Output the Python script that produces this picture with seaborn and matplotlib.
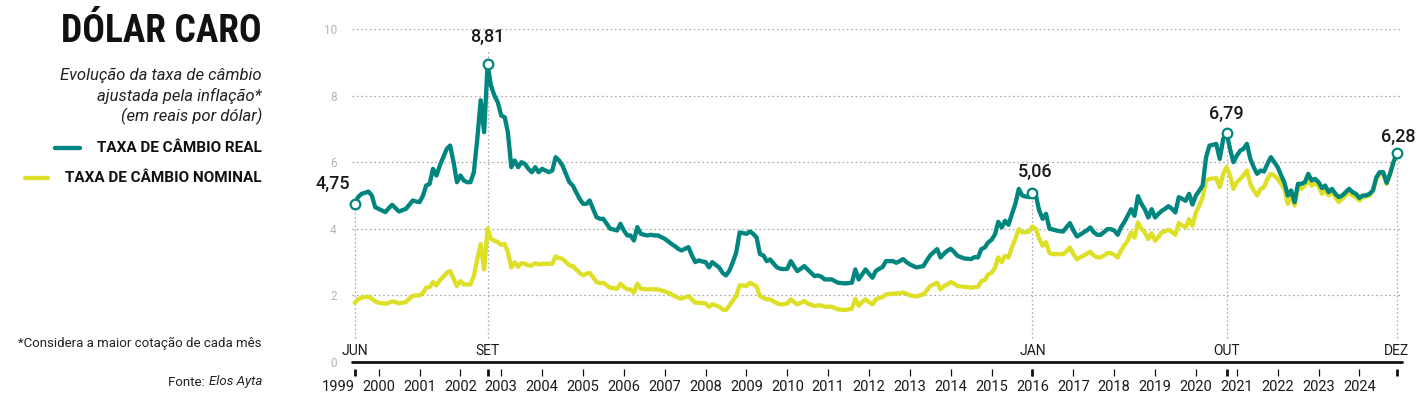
import numpy as np
import pandas as pd
import matplotlib
matplotlib.use("Agg")
import matplotlib.pyplot as plt
import seaborn as sns
from matplotlib.lines import Line2D
from matplotlib import font_manager

# ---------------- data (monthly, Jun 1999 .. Dec 2024) ----------------
start_month = "1999-06-01"
end_month = "2024-12-01"

real_rate = [
    4.75, 4.95, 5.05, 5.08, 5.12, 5.0, 4.65,                               # 1999 (jun-dez)
    4.6, 4.55, 4.5, 4.62, 4.72, 4.62, 4.52, 4.56, 4.6, 4.72, 4.85, 4.82,   # 2000
    4.8, 5.0, 5.3, 5.35, 5.8, 5.6, 5.9, 6.15, 6.4, 6.5, 6.0, 5.4,          # 2001
    5.6, 5.45, 5.4, 5.4, 5.7, 6.7, 7.86, 6.9, 8.95, 8.3, 8.0, 7.8,         # 2002
    7.4, 7.35, 6.9, 5.85, 6.05, 5.85, 6.0, 5.95, 5.8, 5.7, 5.85, 5.7,      # 2003
    5.8, 5.75, 5.7, 5.75, 6.15, 6.05, 5.9, 5.65, 5.4, 5.3, 5.1, 4.9,       # 2004
    4.75, 4.75, 4.85, 4.6, 4.35, 4.3, 4.3, 4.15, 4.0, 3.98, 3.95, 4.15,    # 2005
    3.95, 3.8, 3.8, 3.65, 4.05, 3.85, 3.82, 3.8, 3.82, 3.8, 3.8, 3.75,     # 2006
    3.7, 3.62, 3.55, 3.48, 3.4, 3.35, 3.4, 3.45, 3.2, 3.0, 3.05, 3.02,     # 2007
    3.0, 2.84, 3.0, 2.92, 2.84, 2.68, 2.6, 2.74, 3.0, 3.29, 3.89, 3.87,    # 2008
    3.85, 3.92, 3.85, 3.74, 3.24, 3.2, 3.03, 3.08, 2.95, 2.84, 2.8, 2.79,  # 2009
    2.8, 3.03, 2.88, 2.73, 2.8, 2.88, 2.78, 2.68, 2.58, 2.6, 2.56, 2.48,   # 2010
    2.48, 2.48, 2.43, 2.38, 2.37, 2.36, 2.37, 2.38, 2.78, 2.48, 2.63, 2.78,  # 2011
    2.65, 2.53, 2.73, 2.8, 2.85, 3.03, 3.03, 3.03, 2.98, 3.03, 3.09, 3.0,  # 2012
    2.93, 2.88, 2.84, 2.86, 2.88, 3.05, 3.2, 3.3, 3.39, 3.14, 3.25, 3.34,  # 2013
    3.4, 3.3, 3.19, 3.15, 3.11, 3.1, 3.09, 3.15, 3.14, 3.39, 3.44, 3.59,   # 2014
    3.67, 3.84, 4.21, 4.04, 4.24, 4.12, 4.44, 4.75, 5.2, 5.0, 4.97, 4.95,  # 2015
    5.08, 5.0, 4.55, 4.3, 4.45, 4.0, 3.98, 3.95, 3.93, 3.92, 4.05, 4.17,   # 2016
    3.95, 3.77, 3.82, 3.89, 3.95, 4.04, 3.9, 3.82, 3.82, 3.9, 3.99, 3.99,  # 2017
    3.95, 3.82, 4.04, 4.2, 4.39, 4.59, 4.39, 4.98, 4.75, 4.59, 4.34, 4.59,  # 2018
    4.34, 4.45, 4.54, 4.6, 4.68, 4.6, 4.49, 4.95, 4.9, 4.84, 5.05, 4.73,   # 2019
    5.0, 5.15, 5.3, 6.15, 6.5, 6.52, 6.55, 6.1, 6.7, 6.88, 6.4, 6.0,       # 2020
    6.2, 6.35, 6.4, 6.55, 6.1, 5.85, 5.65, 5.75, 5.72, 5.95, 6.15, 6.0,    # 2021
    5.85, 5.6, 5.4, 5.0, 5.15, 4.8, 5.35, 5.35, 5.4, 5.65, 5.45, 5.5,      # 2022
    5.4, 5.22, 5.3, 5.1, 5.2, 5.05, 4.95, 5.0, 5.1, 5.2, 5.1, 5.05,        # 2023
    4.93, 5.0, 5.0, 5.05, 5.15, 5.55, 5.7, 5.7, 5.38, 5.65, 6.0, 6.28,     # 2024
]

nominal_rate = [
    1.78, 1.88, 1.93, 1.95, 1.96, 1.9, 1.82,                               # 1999
    1.78, 1.76, 1.75, 1.78, 1.82, 1.8, 1.76, 1.78, 1.8, 1.9, 1.98, 2.0,    # 2000
    2.0, 2.08, 2.23, 2.25, 2.4, 2.3, 2.45, 2.56, 2.68, 2.73, 2.5, 2.28,    # 2001
    2.43, 2.33, 2.33, 2.33, 2.58, 3.09, 3.54, 2.78, 4.01, 3.7, 3.64, 3.6,  # 2002
    3.52, 3.54, 3.3, 2.84, 2.99, 2.86, 2.97, 2.95, 2.9, 2.9, 2.97, 2.93,   # 2003
    2.95, 2.95, 2.95, 2.95, 3.17, 3.12, 3.1, 3.0, 2.9, 2.88, 2.78, 2.68,   # 2004
    2.6, 2.65, 2.68, 2.55, 2.4, 2.37, 2.38, 2.3, 2.23, 2.22, 2.2, 2.35,    # 2005
    2.25, 2.18, 2.18, 2.08, 2.35, 2.2, 2.19, 2.18, 2.19, 2.18, 2.18, 2.15,  # 2006
    2.12, 2.08, 2.03, 1.98, 1.93, 1.9, 1.94, 1.98, 1.88, 1.78, 1.78, 1.77,  # 2007
    1.76, 1.66, 1.73, 1.7, 1.66, 1.58, 1.56, 1.69, 1.85, 1.98, 2.3, 2.3,   # 2008
    2.28, 2.38, 2.33, 2.27, 1.98, 1.93, 1.88, 1.88, 1.82, 1.76, 1.73, 1.74,  # 2009
    1.76, 1.88, 1.8, 1.73, 1.78, 1.83, 1.76, 1.72, 1.68, 1.7, 1.7, 1.66,   # 2010
    1.66, 1.66, 1.62, 1.58, 1.57, 1.56, 1.58, 1.6, 1.9, 1.69, 1.8, 1.88,   # 2011
    1.8, 1.73, 1.88, 1.92, 1.95, 2.03, 2.04, 2.05, 2.06, 2.06, 2.09, 2.05,  # 2012
    2.0, 1.98, 1.97, 2.0, 2.03, 2.15, 2.28, 2.33, 2.38, 2.18, 2.28, 2.33,  # 2013
    2.4, 2.35, 2.28, 2.27, 2.26, 2.25, 2.23, 2.25, 2.26, 2.43, 2.46, 2.63,  # 2014
    2.68, 2.84, 3.14, 3.0, 3.19, 3.14, 3.44, 3.7, 3.99, 3.89, 3.9, 3.91,   # 2015
    4.07, 3.99, 3.7, 3.49, 3.6, 3.27, 3.24, 3.24, 3.24, 3.24, 3.33, 3.44,  # 2016
    3.24, 3.09, 3.14, 3.19, 3.25, 3.31, 3.2, 3.14, 3.14, 3.2, 3.27, 3.27,  # 2017
    3.22, 3.14, 3.34, 3.5, 3.64, 3.89, 3.74, 4.19, 4.0, 3.89, 3.69, 3.87,  # 2018
    3.64, 3.76, 3.89, 3.93, 3.97, 3.9, 3.82, 4.17, 4.1, 4.04, 4.29, 4.09,  # 2019
    4.49, 4.7, 4.95, 5.45, 5.5, 5.51, 5.52, 5.25, 5.65, 5.85, 5.6, 5.2,    # 2020
    5.4, 5.5, 5.6, 5.75, 5.35, 5.15, 5.0, 5.2, 5.25, 5.5, 5.65, 5.6,       # 2021
    5.5, 5.35, 5.2, 4.75, 5.0, 4.7, 5.25, 5.2, 5.3, 5.45, 5.3, 5.35,       # 2022
    5.3, 5.05, 5.15, 5.0, 5.1, 4.95, 4.8, 4.9, 5.0, 5.1, 5.0, 4.95,        # 2023
    4.85, 4.95, 4.97, 5.0, 5.15, 5.5, 5.65, 5.65, 5.35, 5.65, 6.0, 6.28,   # 2024
]

highlight_dates = ["1999-06-01", "2002-09-01", "2016-01-01", "2020-10-01", "2024-12-01"]
highlight_labels = ["4,75", "8,81", "5,06", "6,79", "6,28"]
month_labels = ["JUN", "SET", "JAN", "OUT", "DEZ"]
year_ticks = list(range(2000, 2025))
yticks = [0, 2, 4, 6, 8, 10]

series_names = ["TAXA DE CÂMBIO NOMINAL", "TAXA DE CÂMBIO REAL"]

# ---------------- style ----------------
TEAL = "#00857f"
YELLOW = "#dedf27"
DARK = "#1a1a1a"

sns.set_theme(style="white")
plt.rcParams["font.family"] = ["Roboto", "DejaVu Sans"]


def have_font(name):
    try:
        path = font_manager.findfont(font_manager.FontProperties(family=name),
                                     fallback_to_default=False)
        return bool(path)
    except Exception:
        return False


title_family, title_size, title_weight = ["Roboto", "DejaVu Sans"], 24, "black"
for cand, size in [("Roboto Condensed", 27), ("Liberation Sans Narrow", 25),
                   ("DejaVu Sans Condensed", 23)]:
    if have_font(cand):
        title_family, title_size, title_weight = [cand, "DejaVu Sans"], size, "bold"
        break

W, H = 1422, 400
fig = plt.figure(figsize=(W / 100, H / 100), dpi=100)
fig.patch.set_facecolor("white")


def fx(x):
    return x / W


def fy(y):
    return 1 - y / H


ax_left, ax_right, ax_top, ax_bottom = 352, 1402, 29, 362
ax = fig.add_axes([fx(ax_left), fy(ax_bottom), (ax_right - ax_left) / W, (ax_bottom - ax_top) / H])
ax.set_facecolor("white")

dates = pd.date_range(start_month, end_month, freq="MS")
df = pd.DataFrame({
    "date": np.concatenate([dates, dates]),
    "valor": nominal_rate + real_rate,
    "serie": [series_names[0]] * len(dates) + [series_names[1]] * len(dates),
})

sns.lineplot(data=df, x="date", y="valor", hue="serie", hue_order=series_names,
             palette=[YELLOW, TEAL], linewidth=3.1, legend=False, ax=ax,
             estimator=None, sort=False, zorder=3)
ax.set_xlabel("")
ax.set_ylabel("")

# axes limits
x0 = pd.Timestamp(start_month) - pd.Timedelta(days=24)
x1 = pd.Timestamp(end_month) + pd.Timedelta(days=46)
ax.set_xlim(x0, x1)
ax.set_ylim(0, 10)

# gridlines
ax.set_yticks(yticks)
ax.set_yticklabels([str(v) for v in yticks], color="#b3b3b3", fontsize=8.5)
ax.tick_params(axis="y", left=False, length=0, pad=11)
for v in yticks[1:]:
    ax.axhline(v, color="#a8a8a8", lw=0.9, ls=(0, (1.3, 2.2)), zorder=1)
ax.axhline(0, color="#111111", lw=2.0, zorder=4, clip_on=False)

for s in ["top", "right", "left"]:
    ax.spines[s].set_visible(False)
ax.spines["bottom"].set_position(("outward", 5))
ax.spines["bottom"].set_linewidth(0)

# x ticks
hl = pd.to_datetime(highlight_dates)
major = [pd.Timestamp(f"{y}-01-01") for y in year_ticks]
ax.set_xticks(major)
ax.set_xticklabels([str(y) for y in year_ticks])
ax.set_xticks(list(hl), minor=True)
ax.set_xticklabels(["1999", "", "", "", ""], minor=True)
ax.xaxis.remove_overlapping_locs = False
ax.tick_params(axis="x", which="major", bottom=True, direction="out", length=4.8, width=0.9,
               color="#111111", labelsize=10.5, labelcolor=DARK, pad=3.5)
ax.tick_params(axis="x", which="minor", bottom=True, direction="out", length=4.8, width=2.0,
               color="#111111", labelsize=10.5, labelcolor=DARK, pad=3.5)
for lbl in ax.get_xticklabels(minor=True):
    if lbl.get_text() == "1999":
        lbl.set_horizontalalignment("right")

# highlight leader lines, markers, labels
hl_df = df[(df["serie"] == series_names[1]) & (df["date"].isin(hl))].sort_values("date")
hl_vals = hl_df["valor"].tolist()
tops = list(hl_vals)
tops[1] = hl_vals[1] + 0.4
ax.vlines(hl, 0.72, tops, colors="#a8a8a8", lw=0.9, linestyles=(0, (1.3, 2.0)), zorder=2)
sns.scatterplot(data=hl_df, x="date", y="valor", ax=ax, s=48, color="white",
                edgecolor=TEAL, linewidth=1.6, zorder=6, legend=False, clip_on=False)
ax.set_xlabel("")
ax.set_ylabel("")

offsets = [(-16, 14), (0, 19.5), (2, 15), (0, 14), (1, 11.5)]
for d, v, lab, off in zip(hl, hl_vals, highlight_labels, offsets):
    ax.annotate(lab, (d, v), xytext=off, textcoords="offset points", ha="center",
                va="center", fontsize=13, color=DARK, fontweight="medium", zorder=7,
                annotation_clip=False)

for d, lab in zip(hl, month_labels):
    ax.text(d, 0.033, lab, transform=ax.get_xaxis_transform(), ha="center", va="center",
            fontsize=10, color=DARK, zorder=7)

# ---------------- left panel texts ----------------
RX = fx(262)
fig.text(RX, fy(31), "DÓLAR CARO", ha="right", va="center", fontsize=title_size,
         fontweight=title_weight, family=title_family, color="#111111")
for y, line in zip([75, 96, 116], ["Evolução da taxa de câmbio", "ajustada pela inflação*",
                                   "(em reais por dólar)"]):
    fig.text(RX, fy(y), line, ha="right", va="center", fontsize=12, style="italic",
             color="#222222")

fig.add_artist(Line2D([fx(55), fx(80)], [fy(148), fy(148)], color=TEAL, lw=3.1))
fig.text(RX, fy(148), series_names[1], ha="right", va="center", fontsize=11,
         fontweight="bold", color="#111111")
fig.add_artist(Line2D([fx(25), fx(48)], [fy(178), fy(178)], color=YELLOW, lw=3.1))
fig.text(RX, fy(178), series_names[0], ha="right", va="center", fontsize=11,
         fontweight="bold", color="#111111")

fig.text(RX, fy(343), "*Considera a maior cotação de cada mês", ha="right", va="center",
         fontsize=9.5, color="#222222")
src = fig.text(RX, fy(382), "Elos Ayta", ha="right", va="center", fontsize=9.5,
               style="italic", color="#222222")
fig.canvas.draw()
bb = src.get_window_extent(fig.canvas.get_renderer())
fig.text(bb.x0 / W - 0.0005, fy(382), "Fonte: ", ha="right", va="center", fontsize=9.5,
         color="#222222")

fig.savefig("out.png", dpi=100, facecolor="white")
